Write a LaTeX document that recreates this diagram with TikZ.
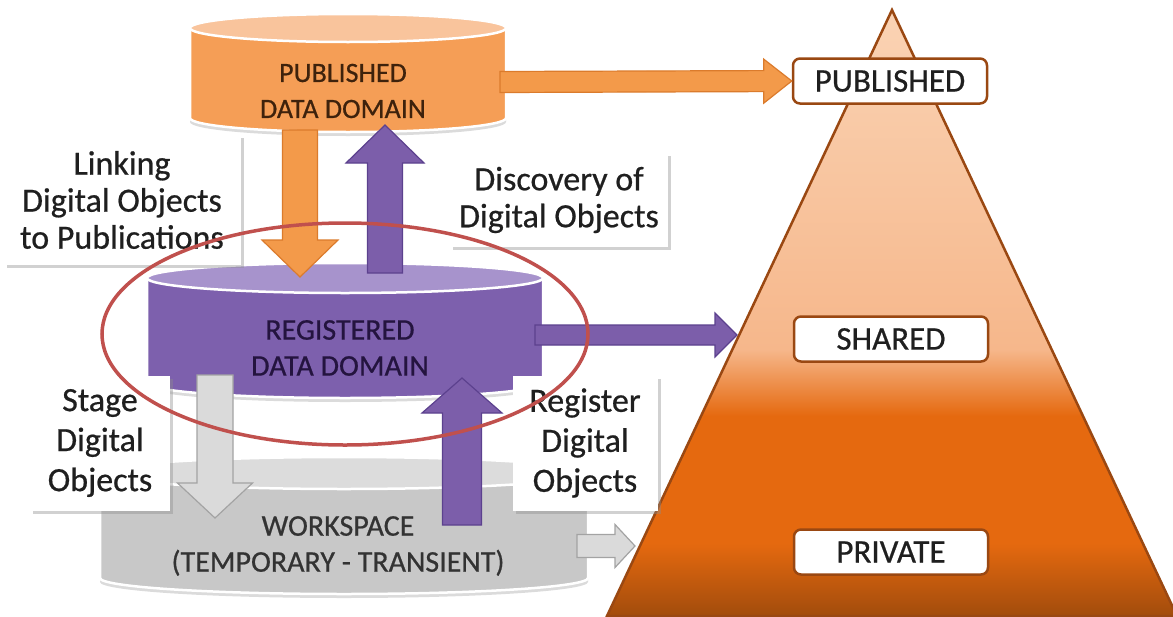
\documentclass[tikz,border=0pt]{standalone}
\usepackage{fontspec}
\setmainfont{Carlito}[FakeBold=0.6]
\usetikzlibrary{calc,shadows}

\definecolor{pubBody}{HTML}{F59E56}
\definecolor{pubTop}{HTML}{F9C49C}
\definecolor{pubArrow}{HTML}{F39A4A}
\definecolor{pubArrowEdge}{HTML}{DB7B2C}
\definecolor{pubText}{HTML}{3E220C}
\definecolor{regBody}{HTML}{7D60AD}
\definecolor{regTop}{HTML}{A793CC}
\definecolor{regArrow}{HTML}{7C5EAA}
\definecolor{regArrowEdge}{HTML}{5C418E}
\definecolor{regText}{HTML}{24143F}
\definecolor{wsBody}{HTML}{C8C8C8}
\definecolor{wsTop}{HTML}{DCDCDC}
\definecolor{wsArrow}{HTML}{DADADA}
\definecolor{wsArrowEdge}{HTML}{A3A3A3}
\definecolor{wsText}{HTML}{333333}
\definecolor{noteText}{HTML}{1F1F1F}
\definecolor{ring}{HTML}{C0504D}
\definecolor{pyrTop}{HTML}{FAD3B4}
\definecolor{pyrLight}{HTML}{F6B78B}
\definecolor{pyrMid}{HTML}{E5690F}
\definecolor{pyrDark}{HTML}{A24C0C}
\definecolor{pyrEdge}{HTML}{9A4812}

% light peach on top, orange below, darker at the base
\pgfdeclareverticalshading{pyramidfade}{100bp}{color(0bp)=(pyrDark); color(25bp)=(pyrDark);
  color(31bp)=(pyrMid); color(41.5bp)=(pyrMid); color(47bp)=(pyrLight);
  color(75bp)=(pyrTop); color(100bp)=(pyrTop)}

% data domain drum: centre x, top y, bottom y, x radius, y radius, body, lid
\newcommand{\drum}[7]{%
  \fill[black!14] (#1-#4,#2+4) -- (#1-#4,#3+4) arc[start angle=180, end angle=0, x radius=#4, y radius=#5] -- (#1+#4,#2+4) -- cycle;
  \draw[white, line width=2.5pt, fill=#6] (#1-#4,#2) -- (#1-#4,#3) arc[start angle=180, end angle=0, x radius=#4, y radius=#5] -- (#1+#4,#2) -- cycle;
  \draw[white, line width=2.5pt, fill=#7] (#1,#2) ellipse ({#4} and {#5});}

% block arrow: style, from, to, half shaft, half head, head length
\newcommand{\blockarrow}[6]{%
  \coordinate (ba) at ($(#3)!#6!(#2)$);
  \draw[#1] ($(#2)!#4!90:(#3)$) -- ($(ba)!#4!-90:(#2)$) -- ($(ba)!#5!-90:(#2)$)
    -- (#3) -- ($(ba)!#5!90:(#2)$) -- ($(ba)!#4!90:(#2)$) -- ($(#2)!#4!-90:(#3)$) -- cycle;}

\begin{document}
\begin{tikzpicture}[x=1pt, y=-1pt,
    domtext/.style={align=center, inner sep=0pt, font=\fontsize{30}{36}\selectfont},
    note/.style={align=center, inner sep=0pt, fill=white, text=noteText,
      font=\fontsize{34}{37}\selectfont,
      drop shadow={shadow xshift=3pt, shadow yshift=-3pt, opacity=.4, fill=black!45}},
    level/.style={draw=pyrEdge, line width=2.5pt, rounded corners=7pt, fill=white,
      minimum width=194pt, minimum height=45pt, inner sep=0pt, text=noteText,
      font=\fontsize{33}{38}\selectfont},
    pubarrow/.style={fill=pubArrow, draw=pubArrowEdge, line width=1.2pt},
    regarrow/.style={fill=regArrow, draw=regArrowEdge, line width=1.2pt},
    wsarrow/.style={fill=wsArrow, draw=wsArrowEdge, line width=1.2pt}]
    \fill[white] (0,0) rectangle (1173,616);
    \useasboundingbox (0,0) rectangle (1173,616);

    % the three domains
    \drum{344}{473}{578}{244}{16}{wsBody}{wsTop}
    \drum{345}{278}{383}{198}{15}{regBody}{regTop}
    \drum{348}{28}{118}{158}{14}{pubBody}{pubTop}

    % visibility pyramid
    \shadedraw[shading=pyramidfade, draw=pyrEdge, line width=2.5pt] (892,10) -- (1177,616) -- (607,616) -- cycle;

    \node[level] (publvl) at (890,81) {PUBLISHED};
    \node[level] (sharelvl) at (891,339) {SHARED};
    \node[level] (privlvl) at (891,552) {PRIVATE};

    \node[domtext, text=pubText, font=\fontsize{28}{36}\selectfont] (pubdom) at (343,91) {PUBLISHED\\DATA DOMAIN};
    \node[domtext, text=regText] (regdom) at (340,348) {REGISTERED\\DATA DOMAIN};
    \node[domtext, text=wsText] (wsdom) at (338,546) {WORKSPACE\\(TEMPORARY - TRANSIENT)};

    \coordinate (pubR) at (500,82);
    \coordinate (regR) at (535,335);
    \coordinate (regTip) at (737,335);
    \coordinate (wsR) at (577,546);
    \coordinate (wsTip) at (635,546);
    \coordinate (pubB) at (300,130);
    \coordinate (linkTip) at (300,277);
    \coordinate (regT) at (385,273);
    \coordinate (discTip) at (385,125);
    \coordinate (regB) at (215,375);
    \coordinate (stageTip) at (215,518);
    \coordinate (wsT) at (462,525);
    \coordinate (registerTip) at (462,378);

    \blockarrow{pubarrow}{pubR}{publvl.west}{10.5pt}{22pt}{28pt}
    \blockarrow{regarrow}{regR}{regTip}{10pt}{22pt}{22pt}
    \blockarrow{wsarrow}{wsR}{wsTip}{11.5pt}{21.5pt}{20pt}
    \blockarrow{pubarrow}{pubB}{linkTip}{17.5pt}{38pt}{37pt}
    \blockarrow{regarrow}{regT}{discTip}{17.5pt}{39pt}{38pt}
    \blockarrow{wsarrow}{regB}{stageTip}{18pt}{37.5pt}{35pt}
    \blockarrow{regarrow}{wsT}{registerTip}{19.5pt}{40pt}{35pt}

    % what moves between the domains
    \node[note, minimum width=237pt, minimum height=130pt] (linknote) at (122,200) {Linking\\Digital Objects\\to Publications};
    \node[note, minimum width=218pt, minimum height=94pt] (discnote) at (559,200) {Discovery of\\Digital Objects};
    \node[note, minimum width=140pt, minimum height=135pt, font=\fontsize{34}{40}\selectfont] (stagenote) at (100,443) {Stage\\Digital\\Objects};
    \node[note, minimum width=145pt, minimum height=135pt, font=\fontsize{34}{40}\selectfont] (regnote) at (585,443) {Register\\Digital\\Objects};

    \draw[ring, line width=3.5pt] (345,334) ellipse (243 and 111);
\end{tikzpicture}
\end{document}
